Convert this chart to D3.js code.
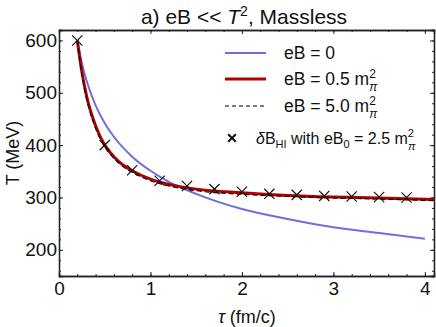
<!DOCTYPE html>
<html>
<head>
<meta charset="utf-8">
<script src="https://cdn.jsdelivr.net/npm/d3@7"></script>
<style>
  body { margin: 0; background: #fff; }
  text { font-family: "Liberation Sans", Arial, sans-serif; }
</style>
</head>
<body>
<script>
var width = 436, height = 327;
var margin = {left: 59, right: 2, top: 30, bottom: 51};

// curves (tau in fm/c, T in MeV)
var tauB0 = [0.2, 0.25, 0.3, 0.4, 0.5, 0.6, 0.8, 1.0, 1.2, 1.5, 2.0, 2.5, 3.0, 3.5, 4.0];
var tempB0 = [600, 557, 524, 476, 442, 416, 378, 351, 330, 307, 278, 259, 243, 232, 221];

var tauB05 = [0.2, 0.25, 0.3, 0.4, 0.5, 0.6, 0.7, 0.8, 1.0, 1.2, 1.5, 2.0, 2.5, 3.0, 3.5, 4.1];
var tempB05 = [600, 540, 495, 437, 400, 378, 362, 351, 335, 325, 316, 309, 304, 301, 299, 296];

var tauB5 = [0.2, 0.25, 0.3, 0.4, 0.5, 0.6, 0.7, 0.8, 1.0, 1.2, 1.5, 2.0, 2.5, 3.0, 3.5, 4.1];
var tempB5 = [600, 535, 490, 432, 397, 375, 359, 348, 332, 322, 313, 306, 302, 299, 297, 294];

var tauHI = [0.2, 0.5, 0.8, 1.1, 1.4, 1.7, 2.0, 2.3, 2.6, 2.9, 3.2, 3.5, 3.8];
var tempHI = [600, 400, 352, 332, 322, 316, 311, 307, 305, 303, 302, 301, 300];

var xTicks = [0, 1, 2, 3, 4];
var yTicks = [200, 300, 400, 500, 600];

var svg = d3.select("body").append("svg")
    .attr("width", width)
    .attr("height", height);

var x = d3.scaleLinear().domain([0, 4.1]).range([margin.left, width - margin.right]);
var y = d3.scaleLinear().domain([150, 620]).range([height - margin.bottom, margin.top]);

// frame with ticks on all four sides
var xMinor = d3.range(0, 4.11, 0.2);
var yMinor = d3.range(160, 620, 20);

svg.append("g").attr("transform", "translate(0," + y.range()[0] + ")")
    .call(d3.axisBottom(x).tickValues(xMinor).tickSize(-2).tickFormat(""));
svg.append("g").attr("transform", "translate(0," + y.range()[0] + ")")
    .call(d3.axisBottom(x).tickValues(xTicks).tickSize(-4).tickPadding(6).tickFormat(d3.format("d")));
svg.append("g").attr("transform", "translate(0," + y.range()[1] + ")")
    .call(d3.axisTop(x).tickValues(xMinor).tickSize(-2).tickFormat(""));
svg.append("g").attr("transform", "translate(0," + y.range()[1] + ")")
    .call(d3.axisTop(x).tickValues(xTicks).tickSize(-4).tickFormat(""));
svg.append("g").attr("transform", "translate(" + x.range()[0] + ",0)")
    .call(d3.axisLeft(y).tickValues(yMinor).tickSize(-2).tickFormat(""));
svg.append("g").attr("transform", "translate(" + x.range()[0] + ",0)")
    .call(d3.axisLeft(y).tickValues(yTicks).tickSize(-4).tickPadding(2));
svg.append("g").attr("transform", "translate(" + x.range()[1] + ",0)")
    .call(d3.axisRight(y).tickValues(yMinor).tickSize(-2).tickFormat(""));
svg.append("g").attr("transform", "translate(" + x.range()[1] + ",0)")
    .call(d3.axisRight(y).tickValues(yTicks).tickSize(-4).tickFormat(""));

svg.selectAll(".domain").attr("stroke", "#222").attr("stroke-width", 1.3);
svg.selectAll(".tick line").attr("stroke", "#222");
svg.selectAll(".tick text").attr("font-size", 19).attr("fill", "#111")
    .attr("font-family", "Liberation Sans, Arial, sans-serif");

svg.append("clipPath").attr("id", "clip").append("rect")
    .attr("x", x.range()[0]).attr("y", y.range()[1])
    .attr("width", x.range()[1] - x.range()[0]).attr("height", y.range()[0] - y.range()[1]);

var line = d3.line().x(function(d) { return x(d[0]); }).y(function(d) { return y(d[1]); })
    .curve(d3.curveMonotoneX);

var plot = svg.append("g").attr("clip-path", "url(#clip)");

plot.append("path").datum(d3.zip(tauB0, tempB0))
    .attr("d", line).attr("fill", "none")
    .attr("stroke", "#6e6ee0").attr("stroke-width", 2);
plot.append("path").datum(d3.zip(tauB05, tempB05))
    .attr("d", line).attr("fill", "none")
    .attr("stroke", "#b00000").attr("stroke-width", 3);
plot.append("path").datum(d3.zip(tauB5, tempB5))
    .attr("d", line).attr("fill", "none")
    .attr("stroke", "#000").attr("stroke-width", 1.1).attr("stroke-dasharray", "5,3");

var cross = d3.symbol().type(d3.symbolX).size(70);
plot.selectAll(".hi").data(d3.zip(tauHI, tempHI)).enter().append("path")
    .attr("transform", function(d) { return "translate(" + x(d[0]) + "," + y(d[1]) + ")"; })
    .attr("d", cross).attr("fill", "none").attr("stroke", "#111").attr("stroke-width", 1.2);

// legend
var leg = svg.append("g").attr("font-size", 17.5).attr("fill", "#111");
var rows = [
  {y: 53, color: "#6e6ee0", w: 2, dash: null, label: "eB = 0"},
  {y: 79, color: "#b00000", w: 3, dash: null, label: "eB = 0.5 m"},
  {y: 106, color: "#000", w: 1.1, dash: "4,3", label: "eB = 5.0 m"}
];
rows.forEach(function(r, i) {
  leg.append("line").attr("x1", 225).attr("x2", 266).attr("y1", r.y).attr("y2", r.y)
      .attr("stroke", r.color).attr("stroke-width", r.w).attr("stroke-dasharray", r.dash);
  var t = leg.append("text").attr("x", 284).attr("y", r.y + 6);
  t.append("tspan").text(r.label);
  if (i > 0) {
    t.append("tspan").attr("font-size", 12).attr("dy", -7).text("2");
    t.append("tspan").attr("font-size", 12).attr("font-style", "italic").attr("dx", -6.5).attr("dy", 13).text("π");
  }
});
leg.append("path").attr("transform", "translate(232,138)")
    .attr("d", d3.symbol().type(d3.symbolX).size(40)).attr("fill", "none")
    .attr("stroke", "#111").attr("stroke-width", 2);
var t4 = leg.append("text").attr("x", 256).attr("y", 144).attr("font-size", 16);
t4.append("tspan").attr("font-style", "italic").text("δ");
t4.append("tspan").text("B");
t4.append("tspan").attr("font-size", 11).attr("dy", 4).text("HI");
t4.append("tspan").attr("dy", -4).text(" with eB");
t4.append("tspan").attr("font-size", 11).attr("dy", 4).text("0");
t4.append("tspan").attr("dy", -4).text(" = 2.5 m");
t4.append("tspan").attr("font-size", 11).attr("dy", -7).text("2");
t4.append("tspan").attr("font-size", 11).attr("font-style", "italic").attr("dx", -6).attr("dy", 13).text("π");

// title and axis labels
var title = svg.append("text").attr("x", 244).attr("y", 24).attr("text-anchor", "middle")
    .attr("font-size", 21).attr("fill", "#111");
title.append("tspan").text("a) eB << ");
title.append("tspan").attr("font-style", "italic").text("T");
title.append("tspan").attr("font-size", 14).attr("dy", -8).text("2");
title.append("tspan").attr("dy", 8).text(", Massless");

svg.append("text").attr("transform", "translate(19,153) rotate(-90)")
    .attr("text-anchor", "middle").attr("font-size", 18).attr("fill", "#111")
    .text("T (MeV)");
var xl = svg.append("text").attr("x", 247).attr("y", 323).attr("text-anchor", "middle")
    .attr("font-size", 18).attr("fill", "#111");
xl.append("tspan").attr("font-style", "italic").text("τ");
xl.append("tspan").text(" (fm/c)");
</script>
</body>
</html>
